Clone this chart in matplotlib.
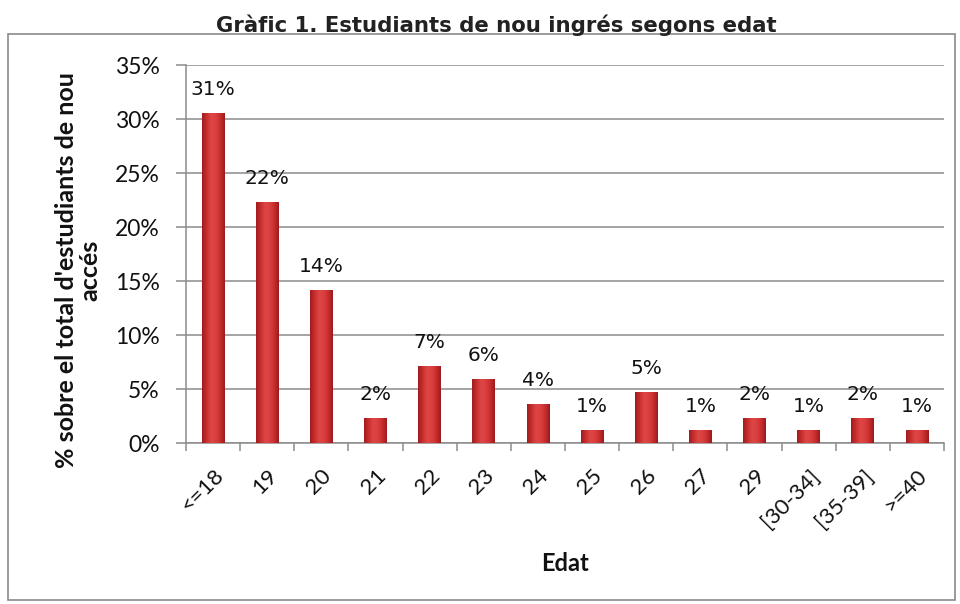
import matplotlib
matplotlib.use("Agg")
import matplotlib.pyplot as plt
import numpy as np
from matplotlib.patches import Rectangle
from matplotlib.colors import LinearSegmentedColormap

categories = ["<=18", "19", "20", "21", "22", "23", "24", "25", "26", "27", "29",
              "[30-34]", "[35-39]", ">=40"]
values = [30.6, 22.3, 14.2, 2.3, 7.1, 5.9, 3.6, 1.2, 4.7, 1.2, 2.3, 1.2, 2.3, 1.2]
yticks = [0, 5, 10, 15, 20, 25, 30, 35]

title = "Gràfic 1. Estudiants de nou ingrés segons edat"
ylabel = "% sobre el total d'estudiants de nou\naccés"
xlabel = "Edat"

plt.rcParams['font.family'] = ['Lato', 'DejaVu Sans']

fig = plt.figure(figsize=(9.6, 6.04), dpi=100)
fig.patch.set_facecolor("white")

# outer chart border
fig.patches.append(Rectangle((8/960, 4/604), 947/960, (600-34)/604,
                             transform=fig.transFigure, fill=False,
                             edgecolor="#8a8a8a", linewidth=1.2))

fig.text(496/960, 1 - 25/604, title, ha="center", va="center",
         family="DejaVu Sans", fontweight="bold", fontsize=15.3, color="#222222")

ax = fig.add_axes([186/960, 1 - 443/604, (944-186)/960, (443-65)/604])
x = np.arange(len(categories))
bars = ax.bar(x, values, width=0.42, color="#C83232", zorder=3)

cmap = LinearSegmentedColormap.from_list(
    "barg", ["#A01C1E", "#C82E2E", "#DE4646", "#DA4040", "#C82E2E", "#9C1A1C"])
grad = np.linspace(0, 1, 64).reshape(1, -1)
for b in bars:
    x0, y0 = b.get_x(), b.get_y()
    w, h = b.get_width(), b.get_height()
    im = ax.imshow(grad, cmap=cmap, aspect="auto", extent=(x0, x0 + w, y0, y0 + h),
                   zorder=4, interpolation="bicubic")
    im.set_clip_path(b)
    ax.annotate(f"{h:.0f}%", (x0 + w/2, y0 + h), xytext=(0, 10),
                textcoords="offset points", ha="center", va="bottom",
                family="DejaVu Sans", fontsize=14.5, color="#111111", zorder=5)

ax.set_xlim(-0.5, len(categories) - 0.5)
ax.set_ylim(0, 35)
ax.set_yticks(yticks)
ax.set_yticklabels([f"{v}%" for v in yticks], fontsize=16.5, color="#111111")
ax.yaxis.grid(True, color="#8c8c8c", linewidth=1.1, zorder=0)
ax.set_axisbelow(True)

ax.set_xticks(x)
ax.set_xticklabels(categories, rotation=45, ha="right", va="top",
                   rotation_mode="anchor", fontsize=16, color="#111111")
ax.set_xticks(np.arange(len(categories) + 1) - 0.5, minor=True)
ax.tick_params(axis="x", which="major", length=0, pad=16)
ax.tick_params(axis="x", which="minor", length=6, color="#8c8c8c", width=1.1)
ax.tick_params(axis="y", length=7, color="#8c8c8c", width=1.1, pad=12)

for s in ["top", "right"]:
    ax.spines[s].set_visible(False)
for s in ["left", "bottom"]:
    ax.spines[s].set_color("#8c8c8c")
    ax.spines[s].set_linewidth(1.1)

ax.set_ylabel(ylabel, fontsize=18, fontweight="bold", color="#111111",
              linespacing=1.05)
ax.yaxis.set_label_coords(-0.111, 0.458)
ax.set_xlabel(xlabel, fontsize=17, fontweight="bold", color="#111111", labelpad=15)

fig.savefig("out.png", dpi=100)
